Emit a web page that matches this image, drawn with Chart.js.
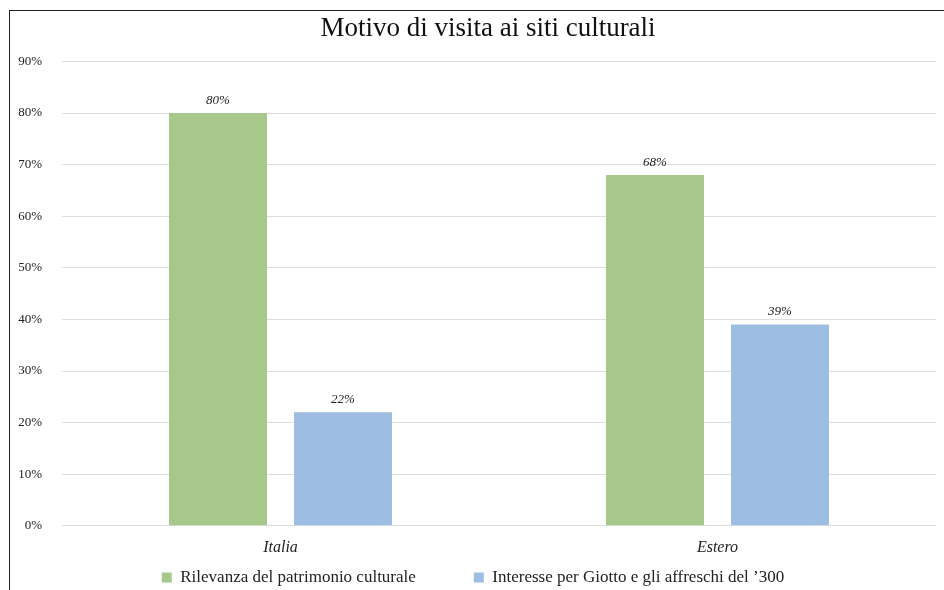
<!DOCTYPE html>
<html>
<head>
<meta charset="utf-8">
<script src="https://cdn.jsdelivr.net/npm/chart.js@4"></script>
<style>
  body { margin: 0; background: #fff; }
  #wrap { position: relative; width: 944px; height: 590px; }
  #frame { position: absolute; left: 9px; top: 10px; right: 0; bottom: 0; border-top: 1px solid #222; border-left: 1px solid #222; pointer-events: none; }
</style>
</head>
<body>
<div id="wrap">
  <canvas id="chart" width="944" height="590"></canvas>
  <div id="frame"></div>
</div>
<script>
// data
var categories = ["Italia", "Estero"];
var seriesNames = ["Rilevanza del patrimonio culturale", "Interesse per Giotto e gli affreschi del \u2019300"];
var patrimonio = [80, 68];
var giotto = [22, 39];
var barColors = ["#a6c98b", "#9dbde2"];

var serif = "'Liberation Serif', 'DejaVu Serif', serif";

// draws the % value over each bar
var valueLabels = {
  id: "valueLabels",
  afterDatasetsDraw(chart) {
    var ctx = chart.ctx;
    ctx.save();
    ctx.font = "italic 13px " + serif;
    ctx.fillStyle = "#222";
    ctx.textAlign = "center";
    ctx.textBaseline = "bottom";
    chart.data.datasets.forEach((ds, i) => {
      chart.getDatasetMeta(i).data.forEach((bar, j) => {
        ctx.fillText(ds.data[j] + "%", bar.x, bar.y - 6);
      });
    });
    ctx.restore();
  }
};

// legend needs a wide gap between items but not the tall box that comes with it
var LEGEND_TRIM = 50;
var TITLE_SHIFT = 15;
var layoutTweaks = {
  id: "layoutTweaks",
  afterInit(chart) {
    var lg = chart.legend;
    var fit = lg.fit;
    lg.fit = function () { fit.call(this); this.height -= LEGEND_TRIM; };
  },
  afterLayout(chart) {
    // move the top edge back up so the legend's clip box holds its text again
    chart.legend.top -= LEGEND_TRIM;
    chart.legend.height += LEGEND_TRIM;
    chart.titleBlock.left += TITLE_SHIFT;
    chart.titleBlock.right += TITLE_SHIFT;
  }
};

new Chart("chart", {
  type: "bar",
  data: {
    labels: categories,
    datasets: [
      { label: seriesNames[0], data: patrimonio, backgroundColor: barColors[0] },
      { label: seriesNames[1], data: giotto, backgroundColor: barColors[1] }
    ]
  },
  plugins: [valueLabels, layoutTweaks],
  options: {
    responsive: false,
    animation: false,
    layout: { padding: { left: 10, right: 8, top: 13, bottom: -6 } },
    datasets: {
      bar: { categoryPercentage: 0.572, barPercentage: 0.784 }
    },
    plugins: {
      title: {
        display: true,
        text: "Motivo di visita ai siti culturali",
        color: "#111",
        font: { family: serif, size: 27, weight: "normal" },
        padding: { top: 0, bottom: 16 }
      },
      legend: {
        position: "bottom",
        labels: {
          boxWidth: 10,
          boxHeight: 10,
          padding: 58,
          color: "#222",
          font: { family: serif, size: 17 }
        }
      },
      tooltip: { enabled: false }
    },
    scales: {
      x: {
        grid: { display: false },
        border: { display: false },
        ticks: { color: "#222", font: { family: serif, size: 16, style: "italic" }, padding: 4 }
      },
      y: {
        min: 0,
        max: 90,
        afterFit(scale) { scale.width = 52; },
        grid: { color: "#dddddd", drawTicks: false },
        border: { display: false },
        ticks: {
          stepSize: 10,
          padding: 20,
          color: "#222",
          font: { family: serif, size: 13 },
          callback: (v) => v + "%"
        }
      }
    }
  }
});
</script>
</body>
</html>
